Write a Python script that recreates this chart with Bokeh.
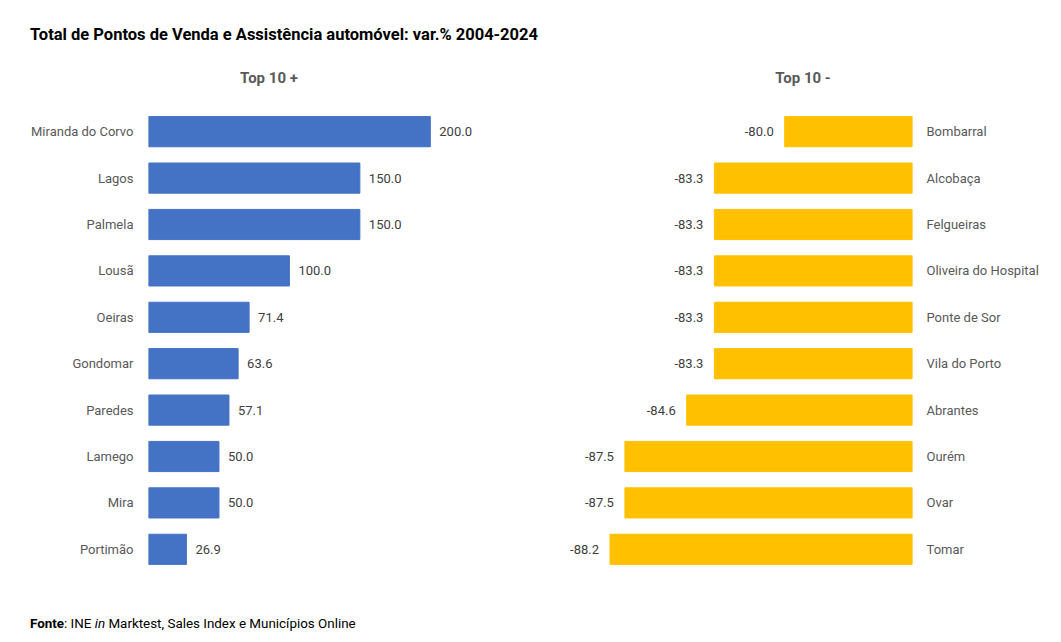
from bokeh.plotting import figure
from bokeh.models import ColumnDataSource, Range1d, FactorRange, Div
from bokeh.layouts import row, column
from bokeh.core.properties import value
from bokeh.embed import file_html
from bokeh.resources import INLINE

# ---- data ----
top_cats = ["Miranda do Corvo", "Lagos", "Palmela", "Lousã", "Oeiras",
            "Gondomar", "Paredes", "Lamego", "Mira", "Portimão"]
top_vals = [200.0, 150.0, 150.0, 100.0, 71.4, 63.6, 57.1, 50.0, 50.0, 26.9]

bot_cats = ["Bombarral", "Alcobaça", "Felgueiras", "Oliveira do Hospital", "Ponte de Sor",
            "Vila do Porto", "Abrantes", "Ourém", "Ovar", "Tomar"]
bot_vals = [-80.0, -83.3, -83.3, -83.3, -83.3, -83.3, -84.6, -87.5, -87.5, -88.2]

title_text = "Total de Pontos de Venda e Assistência automóvel: var.% 2004-2024"
sub_left = "Top 10 +"
sub_right = "Top 10 -"

FONT = "Roboto"
BLUE = "#4472C4"
YELLOW = "#FFC000"
CAT_COL = "#595959"
VAL_COL = "#404040"

FIG_H = 495

def style(p, standoff):
    p.grid.visible = False
    p.outline_line_color = None
    ax = p.yaxis[0]
    ax.axis_line_color = None
    ax.major_tick_line_color = None
    ax.minor_tick_line_color = None
    ax.major_label_text_font = FONT
    ax.major_label_text_font_size = "13px"
    ax.major_label_text_color = CAT_COL
    ax.major_label_standoff = standoff

def sub_div(text, width, inner_w):
    return Div(text=f"<div style=\"width:{inner_w}px;text-align:center;font-family:'{FONT}';"
                    f"font-weight:bold;font-size:15px;color:{CAT_COL};padding-top:20px;"
                    f"white-space:nowrap\">{text}</div>",
               width=width, height=47, margin=(0, 0, 0, 0))

# ---- left: Top 10 + ----
src_l = ColumnDataSource(dict(cat=top_cats, val=top_vals,
                              lab=[f"{v:.1f}" for v in top_vals]))
pl = figure(width=560, height=FIG_H, output_backend="svg", toolbar_location=None,
            x_range=Range1d(0, 264), y_range=FactorRange(factors=list(reversed(top_cats))),
            x_axis_location=None, min_border_left=148, min_border_right=40,
            min_border_top=13, min_border_bottom=18)
pl.hbar(y="cat", left=0, right="val", height=0.65, color=BLUE, source=src_l)
pl.text(x="val", y="cat", text="lab", source=src_l, x_offset=9,
        text_align="left", text_baseline="middle", text_font=value(FONT),
        text_font_size="13px", text_color=VAL_COL)
style(pl, 9)

# ---- right: Top 10 - ----
src_r = ColumnDataSource(dict(cat=bot_cats, val=bot_vals,
                              lab=[f"{v:.1f}" for v in bot_vals]))
pr = figure(width=493, height=FIG_H, output_backend="svg", toolbar_location=None,
            x_range=Range1d(-90.29, -74.0), y_range=FactorRange(factors=list(reversed(bot_cats))),
            x_axis_location=None, y_axis_location="right",
            min_border_left=5, min_border_right=141,
            min_border_top=13, min_border_bottom=18)
pr.hbar(y="cat", left="val", right=-74.0, height=0.65, color=YELLOW, source=src_r)
pr.text(x="val", y="cat", text="lab", source=src_r, x_offset=-11,
        text_align="right", text_baseline="middle", text_font=value(FONT),
        text_font_size="13px", text_color=VAL_COL)
style(pr, 8)

title = Div(text=f"<div style=\"font-family:'{FONT}';font-weight:bold;font-size:16.5px;color:#000;"
                 f"padding-left:30px;padding-top:23px;white-space:nowrap\">{title_text}</div>",
            width=1053, height=48, margin=(0, 0, 0, 0))
footer = Div(text=f"<div style=\"font-family:'{FONT}';font-size:13.4px;color:#000;"
                  f"padding-left:30px;padding-top:24px;white-space:nowrap\">"
                  f"<b>Fonte</b>: INE <i>in</i> Marktest, Sales Index e Municípios Online</div>",
             width=1053, height=44, margin=(0, 0, 0, 0))

left_col = column(sub_div(sub_left, 560, 538), pl, spacing=0)
right_col = column(sub_div(sub_right, 493, 486), pr, spacing=0)
layout = column(title, row(left_col, right_col, spacing=0), footer, spacing=0)

open("out.html", "w").write(file_html(layout, INLINE))
